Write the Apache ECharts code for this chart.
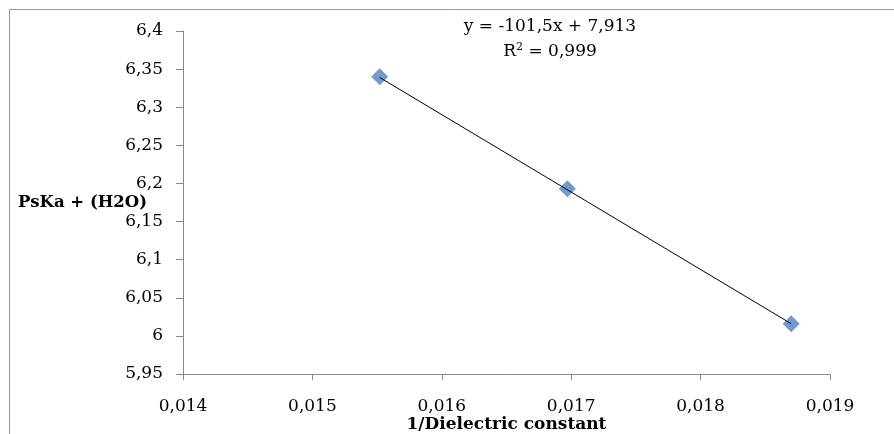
<!DOCTYPE html>
<html>
<head>
<meta charset="utf-8">
<script src="https://cdn.jsdelivr.net/npm/echarts@6/dist/echarts.min.js"></script>
<style>
  html, body { margin: 0; padding: 0; background: #fff; }
  #chart { width: 894px; height: 434px; }
</style>
</head>
<body>
<div id="chart"></div>
<script>
  // measured points
  var xValues = [0.01552, 0.01697, 0.01870];
  var yValues = [6.340, 6.193, 6.016];
  // trendline endpoints (as drawn)
  var trendX = [0.01552, 0.01870];
  var trendY = [6.339, 6.016];
  var equationText = 'y = -101,5x + 7,913';
  var r2Text = '0,999';

  var serif = '"DejaVu Serif", "Liberation Serif", serif';
  var comma = function (v) { return String(+v.toFixed(4)).replace('.', ','); };

  var myChart = echarts.init(document.getElementById('chart'));
  var option = {
    animation: false,
    grid: { left: 183, top: 31, right: 64, bottom: 60, containLabel: false, outerBoundsMode: 'none' },
    xAxis: {
      type: 'value',
      min: 0.014, max: 0.019, interval: 0.001,
      name: '1/Dielectric constant',
      nameLocation: 'middle',
      nameGap: 42,
      nameMoveOverlap: false,
      nameTextStyle: { fontFamily: serif, fontWeight: 'bold', fontSize: 17, color: '#000' },
      axisLine: { lineStyle: { color: '#888' } },
      axisTick: { lineStyle: { color: '#888' }, length: 6 },
      axisLabel: { fontFamily: serif, fontSize: 17, color: '#000', margin: 24, formatter: comma },
      splitLine: { show: false }
    },
    yAxis: {
      type: 'value',
      min: 5.95, max: 6.4, interval: 0.05,
      name: 'PsKa + (H2O)',
      nameLocation: 'middle',
      nameRotate: 0,
      nameGap: 36,
      nameMoveOverlap: false,
      nameTextStyle: { fontFamily: serif, fontWeight: 'bold', fontSize: 16.5, color: '#000', padding: [4, 0, 0, 0] },
      axisLine: { show: true, lineStyle: { color: '#888' } },
      axisTick: { show: true, lineStyle: { color: '#888' }, length: 7 },
      axisLabel: { fontFamily: serif, fontSize: 17, color: '#000', margin: 20, formatter: comma },
      splitLine: { show: false }
    },
    graphic: [
      {
        type: 'rect', silent: true,
        shape: { x: 9.5, y: 9.5, width: 900, height: 500 },
        style: { fill: 'none', stroke: '#999', lineWidth: 1 }
      },
      {
        type: 'text', silent: true,
        x: 550, y: 27,
        style: { text: equationText, align: 'center', verticalAlign: 'middle', font: '17px ' + serif, fill: '#000' }
      },
      {
        type: 'text', silent: true,
        x: 550, y: 52,
        style: {
          text: '{n|R}{s|2}{n| = ' + r2Text + '}',
          align: 'center',
          verticalAlign: 'middle',
          rich: {
            n: { fontFamily: serif, fontSize: 17, color: '#000', lineHeight: 22 },
            s: { fontFamily: serif, fontSize: 11, color: '#000', lineHeight: 22, padding: [0, 0, 10, 0] }
          }
        }
      }
    ],
    series: [
      {
        type: 'line',
        data: trendX.map(function (x, i) { return [x, trendY[i]]; }),
        showSymbol: false,
        lineStyle: { color: '#000', width: 1 },
        silent: true,
        z: 3
      },
      {
        type: 'scatter',
        data: xValues.map(function (x, i) { return [x, yValues[i]]; }),
        symbol: 'rect',
        symbolRotate: 45,
        symbolSize: 12,
        itemStyle: { color: '#4F81BD' },
        z: 2
      }
    ]
  };
  option && myChart.setOption(option);
</script>
</body>
</html>
